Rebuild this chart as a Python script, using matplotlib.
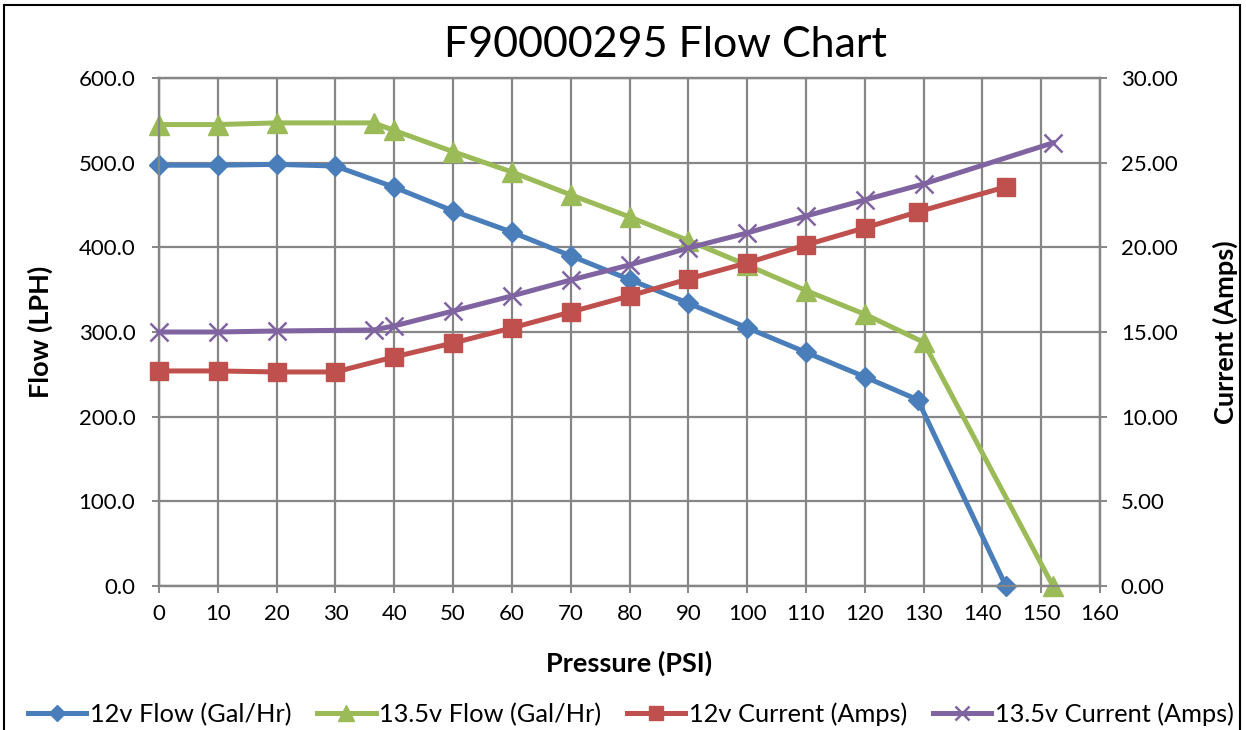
import matplotlib
matplotlib.use("Agg")
import matplotlib.pyplot as plt
from matplotlib.ticker import FormatStrFormatter, MultipleLocator
from matplotlib.patches import Rectangle

plt.rcParams['font.family'] = ['Lato', 'DejaVu Sans']

# Data
p12 = [0, 10, 20, 30, 40, 50, 60, 70, 80, 90, 100, 110, 120, 129, 144]
flow12 = [497, 497, 498, 496, 471, 443, 418, 390, 362, 334, 305, 276, 247, 220, 0]
cur12 = [12.70, 12.70, 12.64, 12.64, 13.53, 14.35, 15.24, 16.18, 17.13, 18.13,
         19.08, 20.14, 21.15, 22.09, 23.57]

p135 = [0, 10, 20, 36.5, 40, 50, 60, 70, 80, 90, 100, 110, 120, 130, 152]
flow135 = [545, 545, 547, 547, 538, 513, 489, 462, 436, 408, 379, 349, 321, 288, 0]
cur135 = [15.00, 15.00, 15.06, 15.12, 15.36, 16.24, 17.13, 18.07, 18.96, 19.96,
          20.85, 21.85, 22.80, 23.74, 26.17]

labels = ["12v Flow (Gal/Hr)", "13.5v Flow (Gal/Hr)", "12v Current (Amps)", "13.5v Current (Amps)"]
title = "F90000295 Flow Chart"
xlabel = "Pressure (PSI)"
ylabel_left = "Flow (LPH)"
ylabel_right = "Current (Amps)"

blue, green, red, purple = "#4A7EBB", "#9BBB59", "#C0504D", "#8064A2"
grid_c = "#868686"

W, H = 1246, 730
fig = plt.figure(figsize=(W/100, H/100), dpi=100)
ax = fig.add_axes([159/W, 1-586/H, (1100-159)/W, (586-78)/H])
ax2 = ax.twinx()

lw = 3.6
l1, = ax.plot(p12, flow12, color=blue, lw=lw, marker='D', ms=10, mec=blue, mfc=blue,
              zorder=3, clip_on=False)
l2, = ax.plot(p135, flow135, color=green, lw=lw, marker='^', ms=14, mec=green, mfc=green,
              zorder=3, clip_on=False)
l3, = ax2.plot(p12, cur12, color=red, lw=lw, marker='s', ms=13, mec=red, mfc=red,
               zorder=3, clip_on=False)
l4, = ax2.plot(p135, cur135, color=purple, lw=lw, marker='x', ms=13, mew=1.8, mec=purple,
               zorder=3, clip_on=False)

ax.set_xlim(0, 160)
ax.set_ylim(0, 600)
ax2.set_ylim(0, 30)
ax.xaxis.set_major_locator(MultipleLocator(10))
ax.yaxis.set_major_locator(MultipleLocator(100))
ax2.yaxis.set_major_locator(MultipleLocator(5))
ax.yaxis.set_major_formatter(FormatStrFormatter('%.1f'))
ax2.yaxis.set_major_formatter(FormatStrFormatter('%.2f'))

ax.grid(True, color=grid_c, lw=1.6)
ax.set_axisbelow(True)
for a in (ax, ax2):
    for s in a.spines.values():
        s.set_color(grid_c)
        s.set_linewidth(1.6)
    a.tick_params(colors=grid_c, labelcolor='black', labelsize=16, width=1.4, length=5)
ax.tick_params(axis='x', pad=8)
ax.tick_params(axis='y', pad=12)
ax2.tick_params(axis='y', pad=10)

fig.text(0.5 * (159 + 1100) / W, 1 - 663/H, xlabel, fontsize=19.5, fontweight='bold',
         ha='center', va='center')
fig.text(40/W, 1 - 332/H, ylabel_left, fontsize=19.5, fontweight='bold',
         ha='center', va='center', rotation=90)
fig.text(1225/W, 1 - 332/H, ylabel_right, fontsize=19.5, fontweight='bold',
         ha='center', va='center', rotation=90)
fig.text(665/W, 1 - 45/H, title, fontsize=31, ha='center', va='center')

fig.legend([l1, l2, l3, l4], labels, loc='center', bbox_to_anchor=(631/W, 1-714/H),
           ncol=4, frameon=False, fontsize=18.3, handlelength=2.3, columnspacing=1.0,
           handletextpad=0.15, markerscale=0.8, borderpad=0.2, borderaxespad=0)

fig.patches.append(Rectangle((4/W, -0.1), (1240-4)/W, 1.1 - 5/H,
                             transform=fig.transFigure, fill=False, ec='black', lw=1.5))

fig.savefig("out.png", dpi=100)
